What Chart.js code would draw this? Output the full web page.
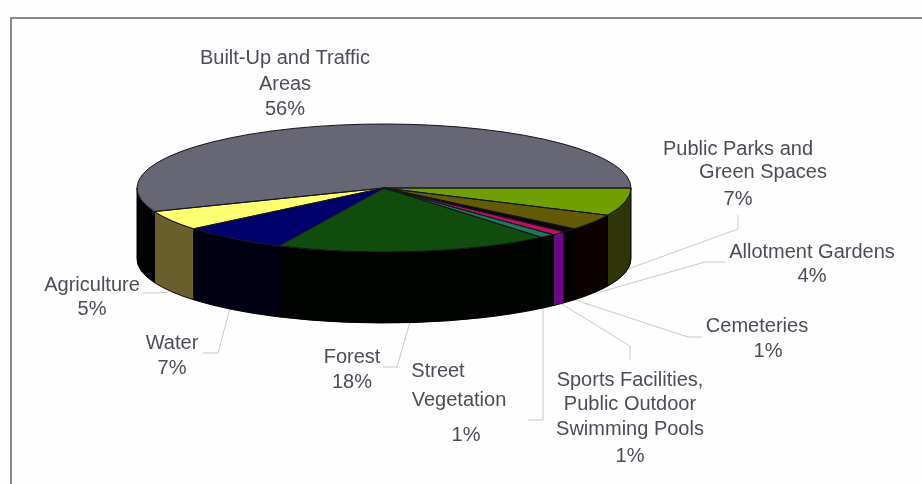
<!DOCTYPE html>
<html>
<head>
<meta charset="utf-8">
<title>Land use shares</title>
<script src="https://cdn.jsdelivr.net/npm/chart.js@4"></script>
<style>
  html, body { margin: 0; padding: 0; background: #fefefe; }
  canvas { display: block; }
</style>
</head>
<body>
<canvas id="myChart" width="922" height="484"></canvas>
<script>
const categories = [
  "Public Parks and Green Spaces",
  "Allotment Gardens",
  "Cemeteries",
  "Sports Facilities, Public Outdoor Swimming Pools",
  "Street Vegetation",
  "Forest",
  "Water",
  "Agriculture",
  "Built-Up and Traffic Areas",
];
const shares = [7, 4, 1, 1, 1, 18, 7, 5, 56];
const topColors = ["#6f9f00", "#625a04", "#0c0408", "#c0105c", "#1c7a58", "#104c0c", "#00006c", "#ffff72", "#666674"];
const wallColors = ["#2f3508", "#0c0202", "#030303", "#680a80", "#010804", "#010301", "#000014", "#6a5e2c", "#020204"];

// where the disc sits on the page
const pie = { cx: 384, cy: 188, rx: 247, ry: 64, depth: 71 };

const textColor = "#4c4c58";
const lineColor = "#c9c9c9";

// one entry per label line: text, centre x, middle y
const labelLines = [
  ["Built-Up and Traffic", 285, 58], ["Areas", 285, 84], ["56%", 285, 109],
  ["Public Parks and", 738, 149], ["Green Spaces", 763, 172], ["7%", 738, 199],
  ["Allotment Gardens", 812, 252], ["4%", 812, 276],
  ["Cemeteries", 757, 326], ["1%", 768, 351],
  ["Sports Facilities,", 630, 380], ["Public Outdoor", 630, 404], ["Swimming Pools", 630, 429], ["1%", 630, 456],
  ["Street", 438, 371], ["Vegetation", 459, 400], ["1%", 466, 435],
  ["Forest", 352, 357], ["18%", 352, 382],
  ["Water", 172, 343], ["7%", 172, 368],
  ["Agriculture", 92, 285], ["5%", 92, 309],
];

// leader lines from the labels to the disc edge
const leaders = [
  [[738, 215], [738, 229], [628, 269]],
  [[725, 262], [705, 262], [600, 292]],
  [[702, 337], [688, 337], [575, 300]],
  [[630, 360], [630, 346], [560, 303]],
  [[528, 420], [543, 420], [543, 308]],
  [[383, 367], [397, 367], [410, 322]],
  [[203, 353], [218, 353], [230, 308]],
  [[143, 293], [158, 293], [168, 292]],
];

// chart frame, only top and left show
function drawFrame(ctx) {
  ctx.save();
  ctx.strokeStyle = "#8a8a94";
  ctx.lineWidth = 2;
  ctx.beginPath();
  ctx.moveTo(11, 484);
  ctx.lineTo(11, 18);
  ctx.lineTo(922, 18);
  ctx.stroke();
  ctx.restore();
}

// side walls, front half of the disc only
function drawWalls(ctx, arcs) {
  ctx.save();
  ctx.lineWidth = 1;
  ctx.strokeStyle = "#000000";
  arcs.forEach((arc, i) => {
    const from = Math.max(arc.startAngle, 0);
    const to = Math.min(arc.endAngle, Math.PI);
    if (to <= from) return;
    ctx.beginPath();
    ctx.ellipse(pie.cx, pie.cy, pie.rx, pie.ry, 0, from, to);
    ctx.ellipse(pie.cx, pie.cy + pie.depth, pie.rx, pie.ry, 0, to, from, true);
    ctx.closePath();
    ctx.fillStyle = wallColors[i];
    ctx.fill();
    ctx.stroke();
  });
  ctx.restore();
}

// thin slice outlines, stroked after the squash so the width stays even
function drawOutlines(ctx, arcs) {
  ctx.save();
  ctx.lineWidth = 1;
  ctx.strokeStyle = "#14141c";
  arcs.forEach((arc) => {
    ctx.beginPath();
    ctx.moveTo(pie.cx, pie.cy);
    ctx.ellipse(pie.cx, pie.cy, pie.rx, pie.ry, 0, arc.startAngle, arc.endAngle);
    ctx.closePath();
    ctx.stroke();
  });
  ctx.restore();
}

function drawLeaders(ctx) {
  ctx.save();
  ctx.strokeStyle = lineColor;
  ctx.lineWidth = 1;
  leaders.forEach((points) => {
    ctx.beginPath();
    points.forEach(([x, y], i) => (i ? ctx.lineTo(x, y) : ctx.moveTo(x, y)));
    ctx.stroke();
  });
  ctx.restore();
}

function drawLabels(ctx) {
  ctx.save();
  ctx.fillStyle = textColor;
  ctx.font = '20px "Liberation Sans", Arial, sans-serif';
  ctx.textAlign = "center";
  ctx.textBaseline = "middle";
  labelLines.forEach(([text, x, y]) => ctx.fillText(text, x, y));
  ctx.restore();
}

const tiltedPie = {
  id: "tiltedPie",
  beforeDraw(chart) {
    drawFrame(chart.ctx);
    drawLeaders(chart.ctx);
  },
  beforeDatasetsDraw(chart) {
    const ctx = chart.ctx;
    const arcs = chart.getDatasetMeta(0).data;
    drawWalls(ctx, arcs);
    // squash the library's round pie into the disc's top face
    const first = arcs[0];
    ctx.save();
    ctx.translate(pie.cx, pie.cy);
    ctx.scale(pie.rx / first.outerRadius, pie.ry / first.outerRadius);
    ctx.translate(-first.x, -first.y);
  },
  afterDatasetsDraw(chart) {
    const ctx = chart.ctx;
    ctx.restore();
    drawOutlines(ctx, chart.getDatasetMeta(0).data);
    drawLabels(ctx);
  },
};

new Chart(document.getElementById("myChart"), {
  type: "pie",
  data: {
    labels: categories,
    datasets: [
      {
        data: shares,
        backgroundColor: topColors,
        borderWidth: 0,
        clip: false,
      },
    ],
  },
  options: {
    responsive: false,
    animation: false,
    rotation: 90,
    layout: { padding: 0 },
    plugins: {
      legend: { display: false },
      tooltip: { enabled: false },
    },
  },
  plugins: [tiltedPie],
});
</script>
</body>
</html>
